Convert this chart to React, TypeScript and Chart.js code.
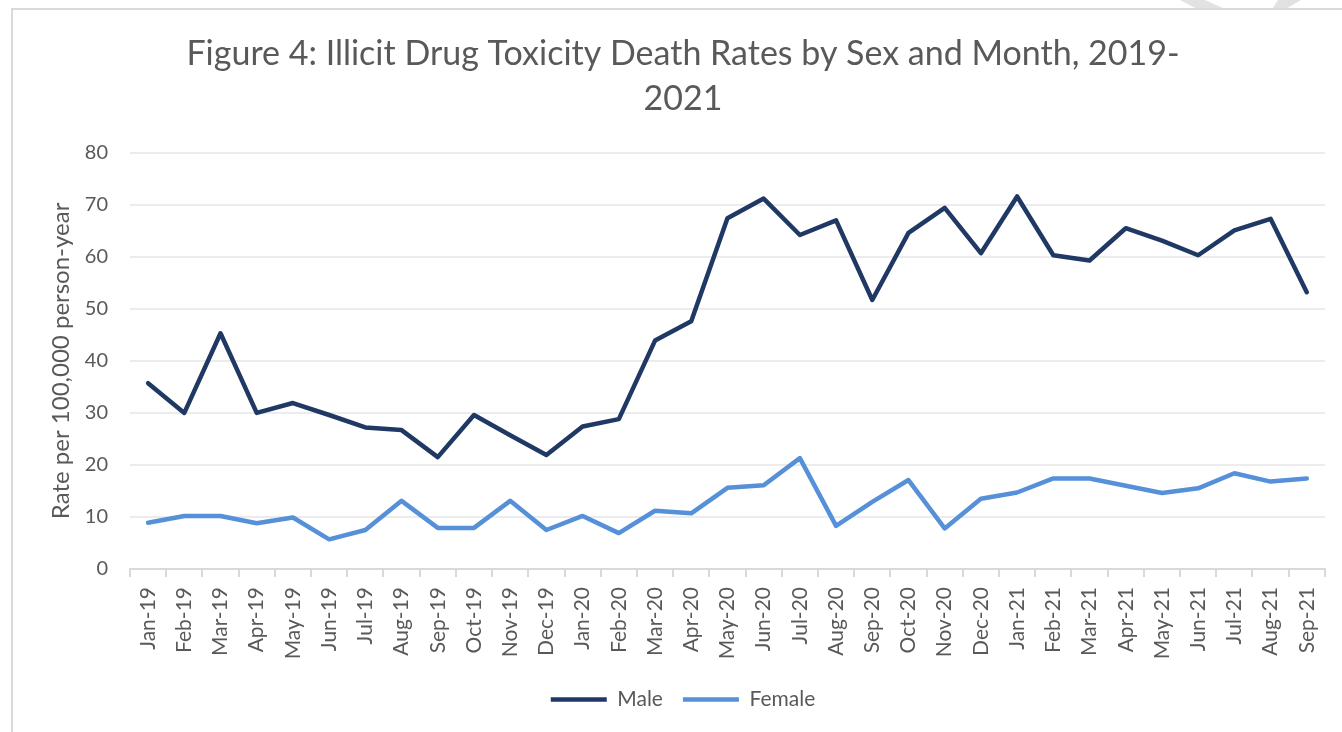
import React, { useEffect, useRef } from "react";
import { Chart, registerables } from "chart.js";

Chart.register(...registerables);

const months = [
  "Jan-19", "Feb-19", "Mar-19", "Apr-19", "May-19", "Jun-19", "Jul-19", "Aug-19", "Sep-19", "Oct-19", "Nov-19", "Dec-19",
  "Jan-20", "Feb-20", "Mar-20", "Apr-20", "May-20", "Jun-20", "Jul-20", "Aug-20", "Sep-20", "Oct-20", "Nov-20", "Dec-20",
  "Jan-21", "Feb-21", "Mar-21", "Apr-21", "May-21", "Jun-21", "Jul-21", "Aug-21", "Sep-21",
];

const maleRates = [
  35.7, 30.0, 45.3, 30.0, 31.9, 29.6, 27.2, 26.7, 21.5, 29.6, 25.7, 21.9,
  27.4, 28.8, 43.9, 47.6, 67.4, 71.2, 64.2, 67.0, 51.7, 64.6, 69.4, 60.7,
  71.6, 60.3, 59.3, 65.5, 63.1, 60.3, 65.1, 67.3, 53.2,
];

const femaleRates = [
  8.9, 10.2, 10.2, 8.8, 9.9, 5.7, 7.5, 13.1, 7.9, 7.9, 13.1, 7.5,
  10.2, 6.9, 11.2, 10.7, 15.6, 16.1, 21.3, 8.3, 12.9, 17.1, 7.8, 13.5,
  14.7, 17.4, 17.4, 16.0, 14.6, 15.5, 18.4, 16.8, 17.4,
];

const seriesNames = ["Male", "Female"];
const titleLines = ["Figure 4: Illicit Drug Toxicity Death Rates by Sex and Month, 2019-", "2021"];
const yAxisTitle = "Rate per 100,000 person-year";
const yMin = 0;
const yMax = 80;
const yStep = 10;

const FONT = "Lato";
const TEXT = "#595959";

export default function App() {
  const ref = useRef<HTMLCanvasElement | null>(null);

  useEffect(() => {
    if (!ref.current) return;
    const chart = new Chart(ref.current, {
      type: "line",
      data: {
        labels: months,
        datasets: [
          {
            label: seriesNames[0],
            data: maleRates,
            borderColor: "#1F3864",
            backgroundColor: "#1F3864",
            borderWidth: 4.5,
            pointRadius: 0,
            borderCapStyle: "round",
            borderJoinStyle: "round",
            tension: 0,
          },
          {
            label: seriesNames[1],
            data: femaleRates,
            borderColor: "#5690D8",
            backgroundColor: "#5690D8",
            borderWidth: 4.5,
            pointRadius: 0,
            borderCapStyle: "round",
            borderJoinStyle: "round",
            tension: 0,
          },
        ],
      },
      options: {
        responsive: false,
        animation: false,
        layout: { padding: { left: 25, right: 1, top: 0, bottom: 12 } },
        plugins: {
          title: {
            display: true,
            text: titleLines,
            color: TEXT,
            font: { family: FONT, size: 34, weight: "normal", lineHeight: 1.32 },
            padding: { top: 32, bottom: 31 },
          },
          legend: {
            position: "bottom",
            labels: {
              usePointStyle: true,
              pointStyle: "line",
              pointStyleWidth: 56,
              color: TEXT,
              font: { family: FONT, size: 21 },
              padding: 20,
            },
          },
          tooltip: { enabled: false },
        },
        scales: {
          x: {
            offset: true,
            grid: { offset: true, drawOnChartArea: false, drawTicks: true, tickLength: 8, color: "#d9d9d9", lineWidth: 2 },
            border: { display: true, color: "#d9d9d9", width: 2 },
            ticks: {
              autoSkip: false,
              maxRotation: 90,
              minRotation: 90,
              padding: 10,
              color: TEXT,
              font: { family: FONT, size: 21 },
            },
            afterFit: (s: any) => {
              s.height = 100;
            },
          },
          y: {
            min: yMin,
            max: yMax,
            ticks: { stepSize: yStep, padding: 22, color: TEXT, font: { family: FONT, size: 20 } },
            grid: { drawTicks: false, color: "#ececec", lineWidth: 2 },
            border: { display: false },
            title: {
              display: true,
              text: yAxisTitle,
              color: TEXT,
              font: { family: FONT, size: 24 },
              padding: { top: 22, bottom: 8 },
            },
            afterFit: (s: any) => {
              s.width = 105;
            },
          },
        },
      },
    });
    return () => chart.destroy();
  }, []);

  return (
    <div style={{ position: "absolute", left: 0, top: 0, width: 1342, height: 732, overflow: "hidden", background: "#fff" }}>
      <div
        style={{
          position: "absolute",
          left: 1178,
          top: 0,
          width: 50,
          height: 9,
          background: "#e2e2e2",
          clipPath: "polygon(2px 0, 27px 0, 47px 9px, 19px 9px)",
        }}
      />
      <div
        style={{
          position: "absolute",
          left: 1270,
          top: 0,
          width: 34,
          height: 9,
          background: "#e2e2e2",
          clipPath: "polygon(8px 0, 31px 0, 16px 9px, 2px 9px)",
        }}
      />
      <div
        style={{
          position: "absolute",
          left: 11,
          top: 8,
          right: -10,
          bottom: -10,
          borderLeft: "2px solid #d9d9d9",
          borderTop: "2px solid #d9d9d9",
        }}
      />
      <canvas ref={ref} width={1342} height={732} style={{ position: "absolute", left: 0, top: 0 }} />
    </div>
  );
}
